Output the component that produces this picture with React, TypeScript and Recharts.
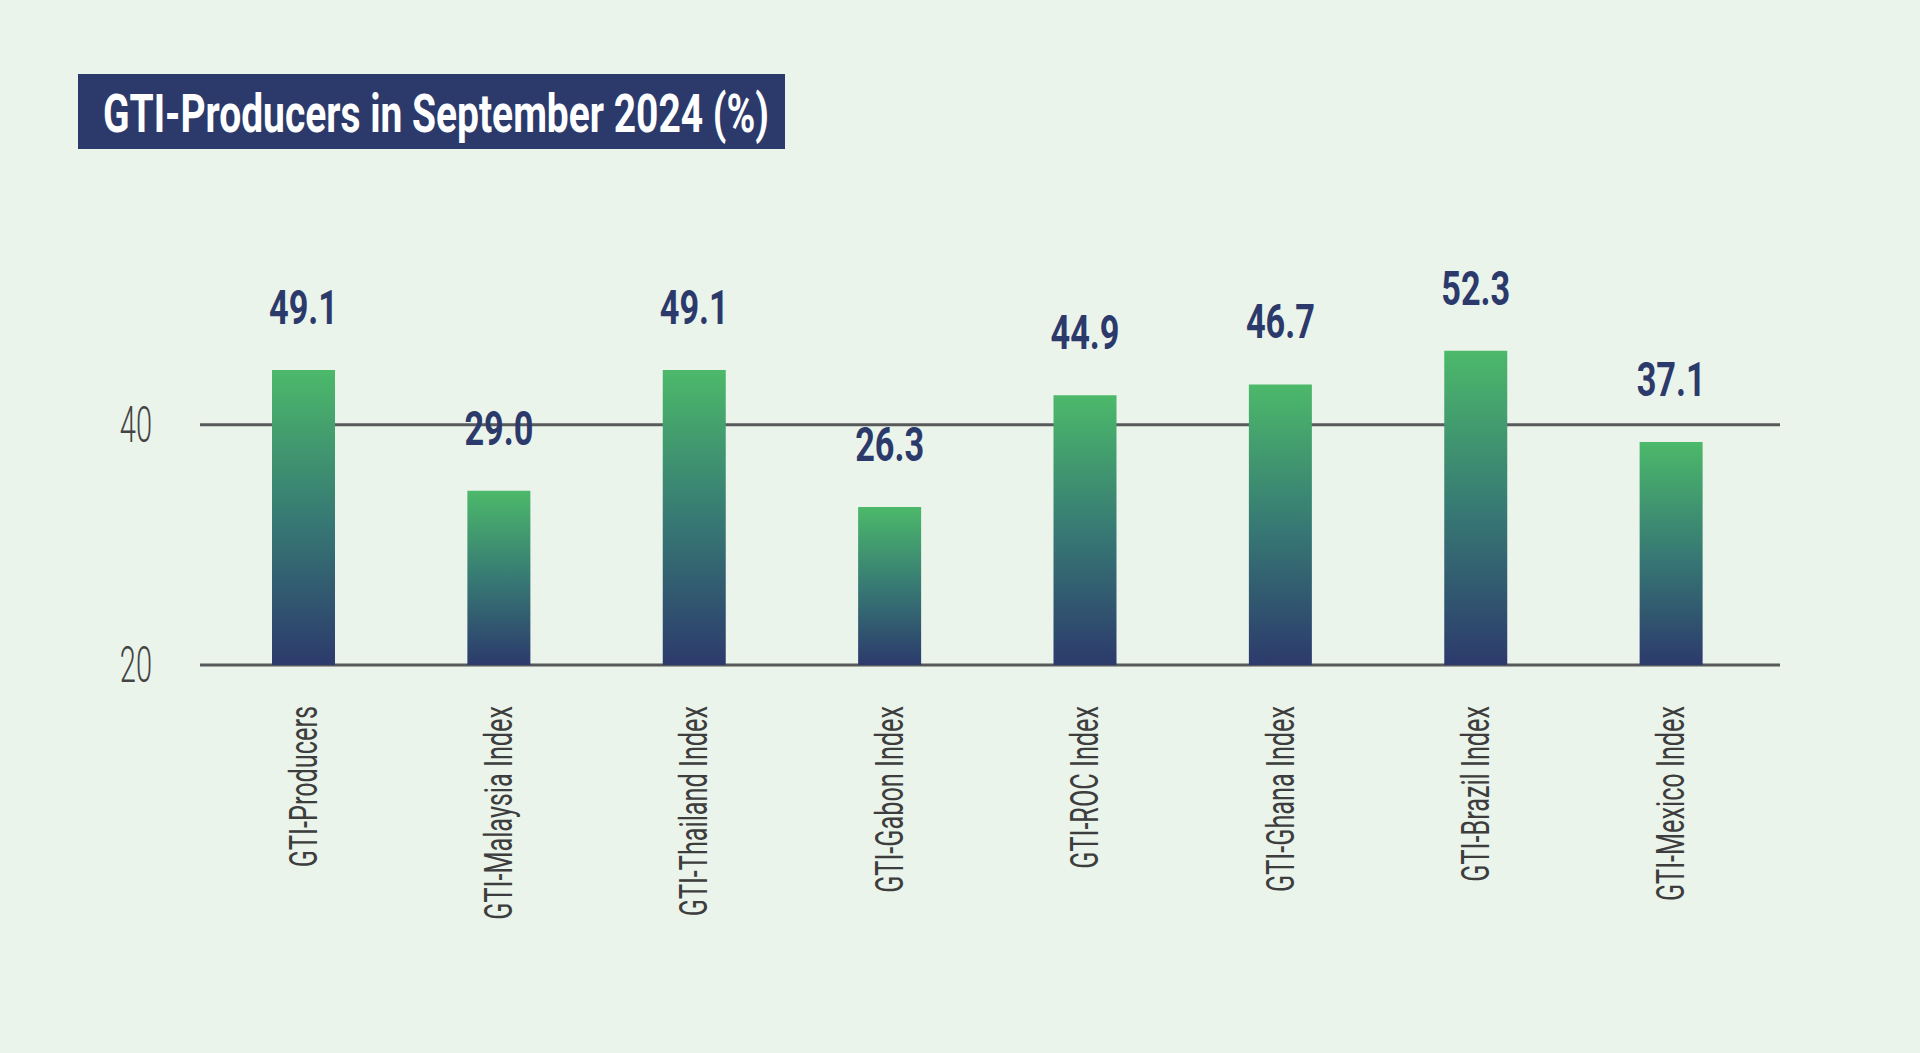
import React from 'react';
import { BarChart, Bar, XAxis, YAxis, CartesianGrid, LabelList } from 'recharts';

const categories = [
  'GTI-Producers',
  'GTI-Malaysia Index',
  'GTI-Thailand Index',
  'GTI-Gabon Index',
  'GTI-ROC Index',
  'GTI-Ghana Index',
  'GTI-Brazil Index',
  'GTI-Mexico Index',
];
const values = [49.1, 29.0, 49.1, 26.3, 44.9, 46.7, 52.3, 37.1];
const yTicks = [0, 40];
const yTickLabels = ['20', '40'];
const title = 'GTI-Producers in September 2024 (%)';

const data = categories.map((name, i) => ({ name, value: values[i] }));

const NAVY = '#2c3a6b';
const FONT = 'Roboto, "Liberation Sans", sans-serif';

const CategoryTick = (props: any) => {
  const { x, payload } = props;
  return (
    <text
      transform={`translate(${x + 13},706) rotate(-90) scale(0.665,1)`}
      textAnchor="end"
      fontFamily={FONT}
      fontSize={38}
      fill="#3d3d3d"
    >
      {payload.value}
    </text>
  );
};

const ValueTick = (props: any) => {
  const { x, y, payload } = props;
  const idx = yTicks.indexOf(payload.value);
  return (
    <text
      transform={`translate(${x},${y + 17}) scale(0.58,1)`}
      textAnchor="end"
      fontFamily={FONT}
      fontWeight={300}
      fontSize={50}
      fill="#444444"
    >
      {yTickLabels[idx]}
    </text>
  );
};

const ValueLabel = (props: any) => {
  const { x, y, width, value } = props;
  return (
    <text
      transform={`translate(${x + width / 2},${y - 46}) scale(0.7,1)`}
      textAnchor="middle"
      fontFamily={FONT}
      fontWeight={700}
      fontSize={49}
      fill={NAVY}
    >
      {Number(value).toFixed(1)}
    </text>
  );
};

export default function App() {
  return (
    <div
      style={{
        position: 'fixed',
        left: 0,
        top: 0,
        width: 1920,
        height: 1053,
        background: '#eaf4eb',
        overflow: 'hidden',
      }}
    >
      <svg
        width={707}
        height={75}
        style={{ position: 'absolute', left: 78, top: 74 }}
      >
        <rect width={707} height={75} fill={NAVY} />
        <text
          transform="translate(25,58) scale(0.735,1)"
          fontFamily={FONT}
          fontWeight={700}
          fontSize={53}
          fill="#ffffff"
        >
          {title}
        </text>
      </svg>
      <div style={{ position: 'absolute', left: 0, top: 0 }}>
        <BarChart
          width={1920}
          height={1053}
          data={data}
          margin={{ top: 304.5, right: 140, bottom: 387, left: 120 }}
        >
          <defs>
            <linearGradient id="barGrad" x1="0" y1="0" x2="0" y2="1">
              <stop offset="0%" stopColor="#4cb96a" />
              <stop offset="50%" stopColor="#377a74" />
              <stop offset="100%" stopColor="#2c3a6c" />
            </linearGradient>
          </defs>
          <CartesianGrid
            vertical={false}
            horizontalValues={yTicks}
            stroke="#58595b"
            strokeWidth={3}
          />
          <XAxis
            dataKey="name"
            interval={0}
            axisLine={false}
            tickLine={false}
            padding={{ left: 6, right: 11 }}
            tick={<CategoryTick />}
            height={1}
          />
          <YAxis
            domain={[0, 60]}
            ticks={yTicks}
            width={80}
            axisLine={false}
            tickLine={false}
            tickSize={0}
            tickMargin={48}
            tick={<ValueTick />}
          />
          <Bar
            dataKey="value"
            barSize={63}
            fill="url(#barGrad)"
            isAnimationActive={false}
          >
            <LabelList dataKey="value" content={<ValueLabel />} />
          </Bar>
        </BarChart>
      </div>
    </div>
  );
}
